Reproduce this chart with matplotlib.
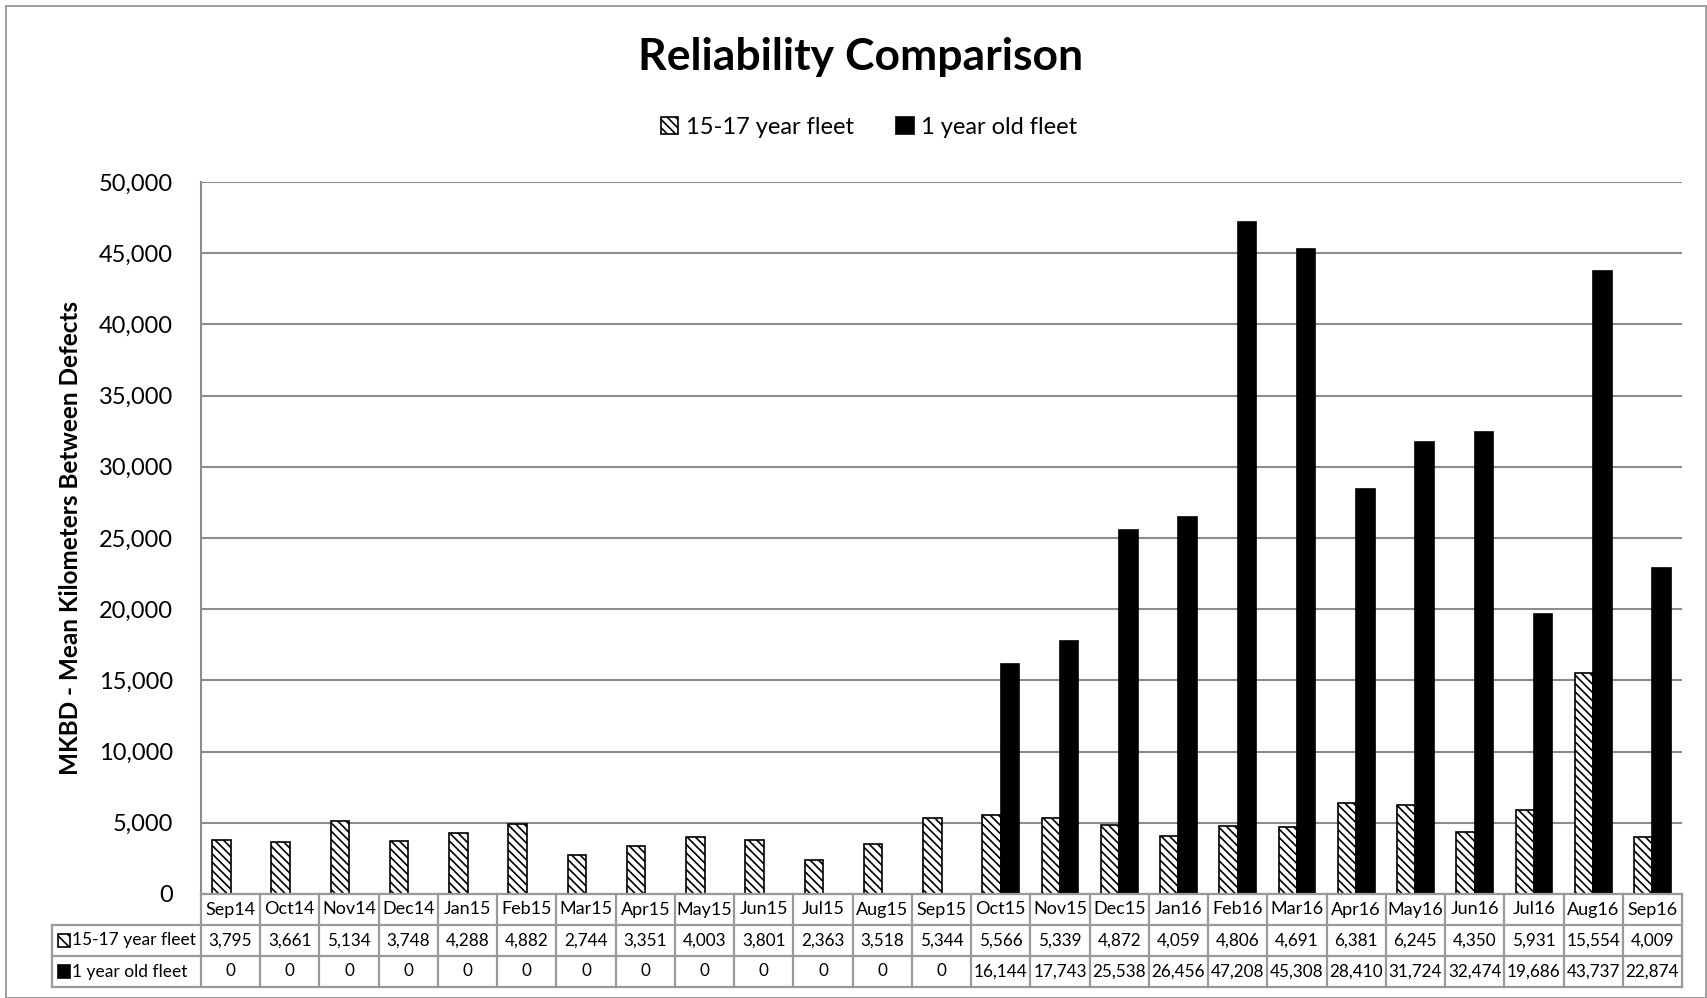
import matplotlib
matplotlib.use("Agg")
import matplotlib.pyplot as plt
from matplotlib.patches import Rectangle
import numpy as np

months = ["Sep14", "Oct14", "Nov14", "Dec14", "Jan15", "Feb15", "Mar15", "Apr15",
          "May15", "Jun15", "Jul15", "Aug15", "Sep15", "Oct15", "Nov15", "Dec15",
          "Jan16", "Feb16", "Mar16", "Apr16", "May16", "Jun16", "Jul16", "Aug16", "Sep16"]
old_fleet = [3795, 3661, 5134, 3748, 4288, 4882, 2744, 3351, 4003, 3801, 2363, 3518,
             5344, 5566, 5339, 4872, 4059, 4806, 4691, 6381, 6245, 4350, 5931, 15554, 4009]
new_fleet = [0, 0, 0, 0, 0, 0, 0, 0, 0, 0, 0, 0, 0, 16144, 17743, 25538, 26456,
             47208, 45308, 28410, 31724, 32474, 19686, 43737, 22874]
series_names = ["15-17 year fleet", "1 year old fleet"]

plt.rcParams['font.family'] = ['Lato', 'DejaVu Sans']
plt.rcParams['hatch.linewidth'] = 1.2

W, H = 1707, 998
fig = plt.figure(figsize=(W / 100, H / 100), dpi=100)

n = len(months)
L, R = 201 / W, 1682 / W
B, T = 1 - 894 / H, 1 - 182 / H
rowh = 31 / H

ax = fig.add_axes([L, B, R - L, T - B])
x = np.arange(n)
bw = 0.31
grid_c = "#8c8c8c"

b1 = ax.bar(x - bw / 2, old_fleet, bw, facecolor="white", edgecolor="black",
            hatch="\\\\\\\\", linewidth=1.2, zorder=3, label=series_names[0])
b2 = ax.bar(x + bw / 2, new_fleet, bw, facecolor="black", edgecolor="black",
            linewidth=1.2, zorder=3, label=series_names[1])

ax.set_xlim(-0.5, n - 0.5)
ax.set_ylim(0, 50000)
ax.set_yticks(np.arange(0, 50001, 5000))
ax.set_yticklabels([f"{v:,}" for v in range(0, 50001, 5000)], fontsize=17)
ax.set_xticks([])
ax.yaxis.grid(True, color=grid_c, linewidth=1.5, zorder=0)
ax.set_axisbelow(True)
for s in ["top", "right", "bottom"]:
    ax.spines[s].set_visible(False)
ax.spines["left"].set_color(grid_c)
ax.spines["left"].set_linewidth(1.5)
ax.tick_params(axis="y", length=0, pad=20)
ax.set_ylabel("MKBD - Mean Kilometers Between Defects", fontsize=17.5,
              fontweight="bold", labelpad=12)

fig.text(0.504, 1 - 57 / H, "Reliability Comparison", ha="center",
         va="center", fontsize=32, fontweight="bold")

leg = fig.legend(handles=[b1, b2], labels=series_names, loc="center",
                 bbox_to_anchor=(0.509, 1 - 127 / H), ncol=2,
                 frameon=False, fontsize=17, handlelength=0.75, handleheight=0.75,
                 handletextpad=0.3, columnspacing=1.8)

# data table
tab = fig.add_axes([L, B - 3 * rowh, R - L, 3 * rowh])
tab.set_xlim(-0.5, n - 0.5)
tab.set_ylim(0, 3)
tab.axis("off")
lab_left = -0.5 - (201 - 52) / ((1682 - 201) / n)
tc = "#999999"
lw = 1.6
for i in range(n + 1):
    xi = i - 0.5
    tab.plot([xi, xi], [0, 3], color=tc, lw=lw, clip_on=False)
tab.plot([lab_left, lab_left], [0, 2], color=tc, lw=lw, clip_on=False)
for yy in [0, 1, 2]:
    tab.plot([lab_left, n - 0.5], [yy, yy], color=tc, lw=lw, clip_on=False)
tab.plot([-0.5, n - 0.5], [3, 3], color=tc, lw=lw, clip_on=False)

fs = 12.3
for i in range(n):
    tab.text(i, 2.5, months[i], ha="center", va="center", fontsize=13)
    tab.text(i, 1.5, f"{old_fleet[i]:,}", ha="center", va="center", fontsize=fs)
    tab.text(i, 0.5, f"{new_fleet[i]:,}", ha="center", va="center", fontsize=fs)

# row labels with key squares
for k, (yc, name) in enumerate([(1.5, series_names[0]), (0.5, series_names[1])]):
    x0 = lab_left + 0.1
    if k == 0:
        r = Rectangle((x0, yc - 0.2), 0.2, 0.4, facecolor="white", edgecolor="black",
                      hatch="\\\\\\", linewidth=1.2, clip_on=False)
    else:
        r = Rectangle((x0, yc - 0.2), 0.2, 0.4, facecolor="black", edgecolor="black",
                      linewidth=1.2, clip_on=False)
    tab.add_patch(r)
    tab.text(x0 + 0.24, yc, name, ha="left", va="center", fontsize=12.5, clip_on=False)

# outer frame
fig.patches.append(Rectangle((6 / W, 0.0), 1 - 7 / W, 1 - 6 / H, transform=fig.transFigure,
                             fill=False, edgecolor="#8c8c8c", linewidth=1.2))

fig.savefig("out.png", dpi=100)
